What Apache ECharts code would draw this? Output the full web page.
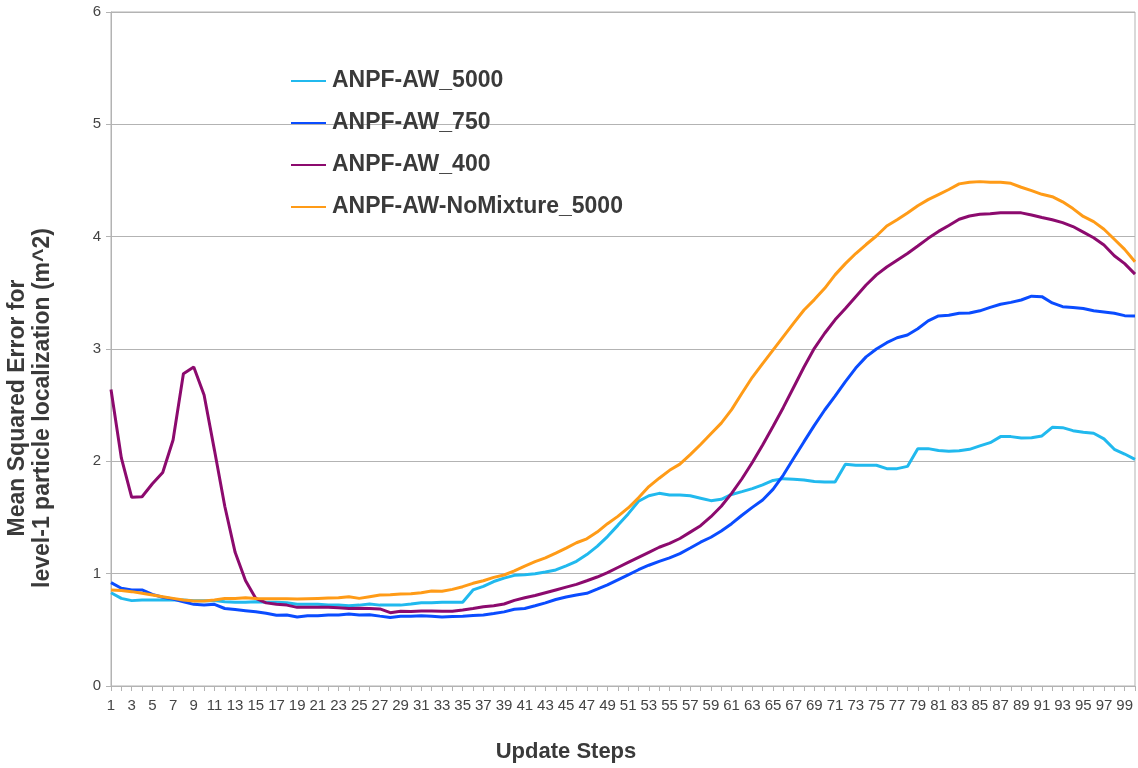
<!DOCTYPE html>
<html>
<head>
<meta charset="utf-8">
<script src="https://cdn.jsdelivr.net/npm/echarts@6/dist/echarts.min.js"></script>
<style>
html,body{margin:0;padding:0;background:#fff;}
#chart{width:1138px;height:768px;}
</style>
</head>
<body>
<div id="chart"></div>
<script>
const steps = Array.from({length: 100}, (_, i) => String(i + 1));

const seriesNames = ['ANPF-AW_5000', 'ANPF-AW_750', 'ANPF-AW_400', 'ANPF-AW-NoMixture_5000'];

const aw5000 = [
  0.83, 0.78, 0.76, 0.765, 0.765, 0.765, 0.765, 0.765, 0.76, 0.76,
  0.76, 0.75, 0.745, 0.745, 0.75, 0.745, 0.745, 0.742, 0.727, 0.727,
  0.727, 0.72, 0.72, 0.715, 0.72, 0.73, 0.72, 0.72, 0.72, 0.73,
  0.742, 0.742, 0.745, 0.745, 0.745, 0.855, 0.887, 0.93, 0.96, 0.985,
  0.99, 1.0, 1.015, 1.033, 1.07, 1.11, 1.17, 1.243, 1.33, 1.43,
  1.532, 1.645, 1.694, 1.715, 1.70, 1.70, 1.694, 1.672, 1.65, 1.662,
  1.705, 1.73, 1.757, 1.79, 1.83, 1.846, 1.84, 1.834, 1.82, 1.816,
  1.816, 1.974, 1.965, 1.965, 1.965, 1.935, 1.935, 1.955, 2.113, 2.113,
  2.097, 2.09, 2.095, 2.107, 2.137, 2.166, 2.22, 2.22, 2.208, 2.21,
  2.226, 2.303, 2.30, 2.273, 2.258, 2.25, 2.20, 2.107, 2.065, 2.018
];

const aw750 = [
  0.92, 0.87, 0.855, 0.855, 0.816, 0.79, 0.775, 0.75, 0.727, 0.72,
  0.727, 0.69, 0.68, 0.67, 0.66, 0.647, 0.63, 0.632, 0.614, 0.625,
  0.625, 0.632, 0.632, 0.64, 0.632, 0.635, 0.622, 0.61, 0.62, 0.622,
  0.625, 0.62, 0.614, 0.618, 0.622, 0.628, 0.632, 0.645, 0.66, 0.683,
  0.69, 0.714, 0.74, 0.77, 0.792, 0.81, 0.825, 0.862, 0.90, 0.945,
  0.99, 1.035, 1.075, 1.11, 1.14, 1.178, 1.228, 1.28, 1.324, 1.38,
  1.445, 1.52, 1.59, 1.656, 1.75, 1.878, 2.027, 2.175, 2.32, 2.457,
  2.58, 2.71, 2.83, 2.93, 3.0, 3.056, 3.10, 3.125, 3.18, 3.25,
  3.294, 3.30, 3.318, 3.32, 3.34, 3.37, 3.398, 3.415, 3.436, 3.47,
  3.466, 3.41, 3.377, 3.37, 3.36, 3.34, 3.33, 3.318, 3.297, 3.294
];

const aw400 = [
  2.64, 2.03, 1.68, 1.685, 1.80, 1.90, 2.19, 2.78, 2.84, 2.59,
  2.10, 1.60, 1.19, 0.94, 0.78, 0.74, 0.727, 0.72, 0.70, 0.70,
  0.70, 0.70, 0.697, 0.69, 0.692, 0.69, 0.686, 0.653, 0.665, 0.663,
  0.668, 0.668, 0.666, 0.665, 0.677, 0.69, 0.706, 0.714, 0.73, 0.762,
  0.785, 0.805, 0.83, 0.855, 0.88, 0.905, 0.937, 0.97, 1.01, 1.055,
  1.10, 1.145, 1.19, 1.235, 1.27, 1.313, 1.37, 1.427, 1.507, 1.60,
  1.715, 1.845, 1.99, 2.145, 2.31, 2.48, 2.66, 2.84, 3.006, 3.14,
  3.26, 3.36, 3.466, 3.57, 3.66, 3.73, 3.79, 3.85, 3.917, 3.985,
  4.047, 4.10, 4.155, 4.184, 4.199, 4.205, 4.212, 4.214, 4.212, 4.193,
  4.17, 4.15, 4.125, 4.09, 4.04, 3.99, 3.926, 3.83, 3.76, 3.667
];

const noMixture5000 = [
  0.855, 0.85, 0.84, 0.825, 0.81, 0.795, 0.78, 0.765, 0.757, 0.757,
  0.765, 0.78, 0.78, 0.785, 0.78, 0.777, 0.777, 0.777, 0.774, 0.777,
  0.78, 0.783, 0.785, 0.795, 0.78, 0.795, 0.81, 0.812, 0.82, 0.822,
  0.83, 0.845, 0.843, 0.86, 0.884, 0.914, 0.937, 0.967, 0.988, 1.024,
  1.068, 1.107, 1.14, 1.183, 1.228, 1.275, 1.31, 1.37, 1.445, 1.51,
  1.585, 1.675, 1.775, 1.85, 1.92, 1.975, 2.06, 2.15, 2.245, 2.34,
  2.46, 2.606, 2.748, 2.87, 2.99, 3.11, 3.23, 3.347, 3.44, 3.54,
  3.66, 3.76, 3.85, 3.93, 4.006, 4.095, 4.15, 4.21, 4.275, 4.33,
  4.375, 4.42, 4.47, 4.484, 4.49, 4.484, 4.484, 4.475, 4.44, 4.41,
  4.377, 4.356, 4.31, 4.25, 4.18, 4.134, 4.066, 3.977, 3.887, 3.777
];

const yTitle = 'Mean Squared Error for\nlevel-1 particle localization (m^2)';
const xTitle = 'Update Steps';

const colors = ['#21b9ee', '#0a4cff', '#8c0a6e', '#ff9b17'];
const values = [aw5000, aw750, aw400, noMixture5000];

const FONT = '"Liberation Sans", Arial, sans-serif';
const gridColor = '#b3b3b3';

const chart = echarts.init(document.getElementById('chart'), null, {renderer: 'canvas'});
chart.setOption({
  animation: false,
  backgroundColor: '#ffffff',
  color: colors,
  grid: {
    left: 111, right: 3, top: 12, bottom: 82,
    show: true, borderColor: gridColor, borderWidth: 1, containLabel: false
  },
  legend: {
    orient: 'vertical',
    left: 286,
    top: 64,
    icon: 'rect',
    itemWidth: 35,
    itemHeight: 2,
    itemGap: 18,
    textStyle: {fontFamily: FONT, fontSize: 23, fontWeight: 'bold', color: '#3a3a3a', lineHeight: 24, padding: [0, 0, 0, 1]},
    data: seriesNames
  },
  xAxis: {
    type: 'category',
    data: steps,
    boundaryGap: false,
    axisLine: {lineStyle: {color: gridColor, width: 1}},
    axisTick: {show: true, interval: 0, length: 5, lineStyle: {color: gridColor}},
    axisLabel: {interval: 1, margin: 12, fontFamily: FONT, fontSize: 15, color: '#444'},
    splitLine: {show: false}
  },
  yAxis: {
    type: 'value',
    min: 0, max: 6, interval: 1,
    axisLine: {show: true, lineStyle: {color: gridColor, width: 1}},
    axisTick: {show: true, length: 5, lineStyle: {color: gridColor}},
    axisLabel: {margin: 10, fontFamily: FONT, fontSize: 15, color: '#444'},
    splitLine: {show: true, lineStyle: {color: gridColor, width: 1}}
  },
  graphic: [
    {
      type: 'text', x: 30, y: 408, rotation: Math.PI / 2,
      style: {text: yTitle, font: 'bold 23px ' + FONT, fill: '#3a3a3a', align: 'center', verticalAlign: 'middle', lineHeight: 25}
    },
    {
      type: 'text', x: 566, y: 752,
      style: {text: xTitle, font: 'bold 22px ' + FONT, fill: '#3a3a3a', align: 'center', verticalAlign: 'middle'}
    }
  ],
  series: seriesNames.map((name, i) => ({
    name: name,
    type: 'line',
    data: values[i],
    showSymbol: false,
    symbol: 'none',
    lineStyle: {width: 3, color: colors[i]},
    itemStyle: {color: colors[i]}
  }))
});
</script>
</body>
</html>
